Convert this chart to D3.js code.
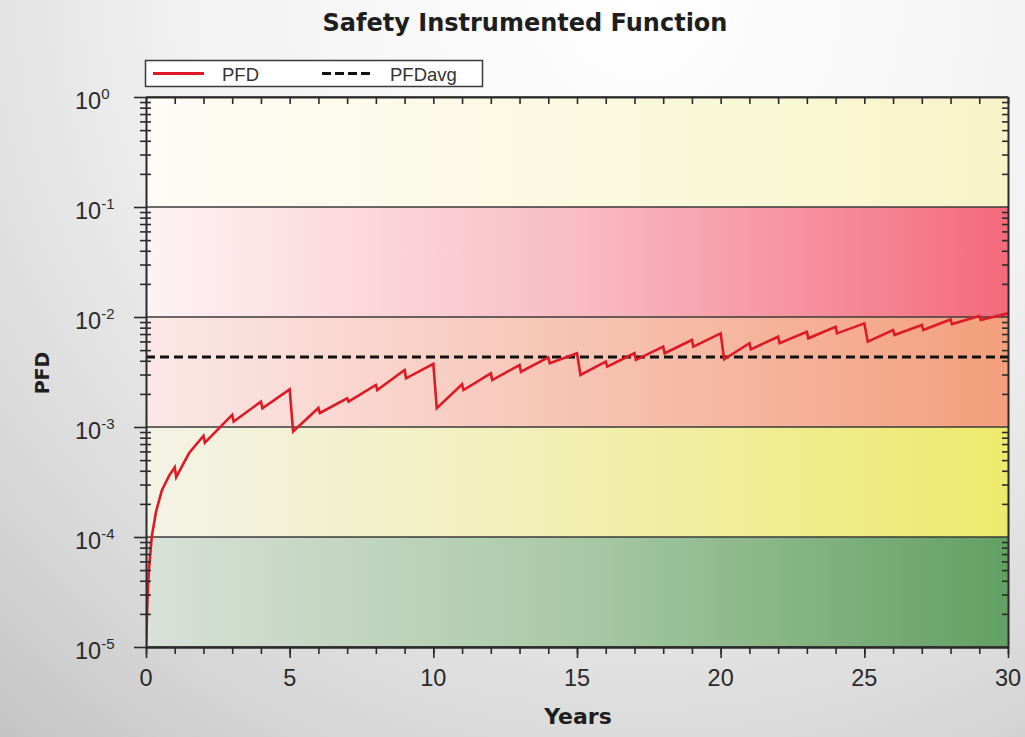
<!DOCTYPE html>
<html>
<head>
<meta charset="utf-8">
<script src="https://cdn.jsdelivr.net/npm/d3@7"></script>
<style>
  html, body { margin: 0; padding: 0; background: #fff; }
  svg { display: block; }
</style>
</head>
<body>
<svg id="chart" width="1025" height="737"></svg>
<script>
// ---------------- DATA ----------------
const chartTitle = "Safety Instrumented Function";
const xLabel = "Years";
const yLabel = "PFD";
const seriesNames = ["PFD", "PFDavg"];

// PFD curve vertices (years, probability of failure on demand)
const pfdYears = [
  0, 0.05, 0.1, 0.2, 0.35, 0.55, 0.8, 1.0, 1.05, 1.5, 2.0, 2.05, 3.0, 3.05, 4.0, 4.05,
  5.0, 5.12, 6.0, 6.05, 7.0, 7.05, 8.0, 8.05, 9.0, 9.05,
  10.0, 10.12, 11.0, 11.05, 12.0, 12.05, 13.0, 13.05, 14.0, 14.05,
  15.0, 15.12, 16.0, 16.05, 17.0, 17.05, 18.0, 18.05, 19.0, 19.05,
  20.0, 20.12, 21.0, 21.05, 22.0, 22.05, 23.0, 23.05, 24.0, 24.05,
  25.0, 25.12, 26.0, 26.05, 27.0, 27.05, 28.0, 28.05, 29.0, 29.05, 30.0
];
const pfdValues = [
  1.0e-5, 2.6e-5, 5.0e-5, 1.0e-4, 1.7e-4, 2.65e-4, 3.6e-4, 4.3e-4, 3.5e-4, 5.8e-4, 8.3e-4, 7.2e-4, 1.29e-3, 1.12e-3, 1.70e-3, 1.48e-3,
  2.2e-3, 9.1e-4, 1.49e-3, 1.34e-3, 1.82e-3, 1.70e-3, 2.41e-3, 2.17e-3, 3.3e-3, 2.77e-3,
  3.75e-3, 1.48e-3, 2.45e-3, 2.17e-3, 3.07e-3, 2.67e-3, 3.66e-3, 3.18e-3, 4.3e-3, 3.8e-3,
  4.68e-3, 2.97e-3, 3.93e-3, 3.53e-3, 4.68e-3, 4.07e-3, 5.37e-3, 4.68e-3, 6.18e-3, 5.37e-3,
  7.1e-3, 4.12e-3, 5.77e-3, 5.08e-3, 6.62e-3, 5.77e-3, 7.35e-3, 6.4e-3, 8.16e-3, 7.1e-3,
  8.75e-3, 5.97e-3, 7.62e-3, 6.86e-3, 8.45e-3, 7.62e-3, 9.5e-3, 8.63e-3, 1.02e-2, 9.4e-3, 1.08e-2
];
const pfdAvg = 4.33e-3;

// axes
const xDomain = [0, 30];
const xMajorTicks = [0, 5, 10, 15, 20, 25, 30];
const xMinorTicks = d3.range(0, 31, 1);
const yDecadeExponents = [-5, -4, -3, -2, -1, 0];
const yTickBase = "10";
const yTickExponentLabels = ["-5", "-4", "-3", "-2", "-1", "0"];

// background bands (lower bound, upper bound)
const bandLow  = [1e-1, 1e-2, 1e-3, 1e-4, 1e-5];
const bandHigh = [1e0,  1e-1, 1e-2, 1e-3, 1e-4];

// ---------------- STYLE ----------------
const bandColors = [
  ["#fdfcf6", "#fbf9e0", "#f8f4c8"],
  ["#fef3f4", "#f9bcc5", "#f46a7b"],
  ["#fbe8e7", "#f7c4b4", "#f49f7c"],
  ["#f3f3e6", "#f2efb2", "#eeea6c"],
  ["#d9e1d8", "#a9c9a6", "#62a062"]
];
const plot = { left: 146, right: 1008, top: 97, bottom: 647 };
const axisColor = "#2b2b2b";
const lineRed = "#dd1a26";

// ---------------- DRAW ----------------
const svg = d3.select("#chart");
const defs = svg.append("defs");

// page vignette
const bg = defs.append("radialGradient").attr("id", "bgGrad")
  .attr("gradientUnits", "userSpaceOnUse")
  .attr("cx", 640).attr("cy", 0).attr("r", 1000);
bg.append("stop").attr("offset", "0").attr("stop-color", "#ffffff");
bg.append("stop").attr("offset", "0.45").attr("stop-color", "#f2f2f2");
bg.append("stop").attr("offset", "0.8").attr("stop-color", "#d6d6d6");
bg.append("stop").attr("offset", "1").attr("stop-color", "#c2c2c2");
svg.append("rect").attr("width", 1025).attr("height", 737).attr("fill", "url(#bgGrad)");

const x = d3.scaleLinear().domain(xDomain).range([plot.left, plot.right]);
const y = d3.scaleLog().domain([1e-5, 1]).range([plot.bottom, plot.top]);

// bands
bandLow.forEach((lo, i) => {
  const g = defs.append("linearGradient").attr("id", "band" + i)
    .attr("x1", "0").attr("x2", "1").attr("y1", "0").attr("y2", "0");
  g.append("stop").attr("offset", "0").attr("stop-color", bandColors[i][0]);
  g.append("stop").attr("offset", "0.5").attr("stop-color", bandColors[i][1]);
  g.append("stop").attr("offset", "1").attr("stop-color", bandColors[i][2]);
  svg.append("rect")
    .attr("x", x(xDomain[0])).attr("width", x(xDomain[1]) - x(xDomain[0]))
    .attr("y", y(bandHigh[i])).attr("height", y(lo) - y(bandHigh[i]))
    .attr("fill", "url(#band" + i + ")");
});

// decade gridlines
svg.append("g").selectAll("line")
  .data(yDecadeExponents.map(e => Math.pow(10, e)))
  .join("line")
  .attr("x1", x(xDomain[0])).attr("x2", x(xDomain[1]))
  .attr("y1", d => y(d)).attr("y2", d => y(d))
  .attr("stroke", "#3a3a3a").attr("stroke-width", 1.6);

// clip
defs.append("clipPath").attr("id", "plotClip").append("rect")
  .attr("x", plot.left).attr("y", plot.top)
  .attr("width", plot.right - plot.left).attr("height", plot.bottom - plot.top);

// average line
svg.append("line")
  .attr("x1", x(xDomain[0])).attr("x2", x(xDomain[1]))
  .attr("y1", y(pfdAvg)).attr("y2", y(pfdAvg))
  .attr("stroke", "#111").attr("stroke-width", 3)
  .attr("stroke-dasharray", "9,5");

// PFD line
const pts = pfdYears.map((t, i) => [t, pfdValues[i]]);
svg.append("path")
  .datum(pts)
  .attr("clip-path", "url(#plotClip)")
  .attr("fill", "none")
  .attr("stroke", lineRed)
  .attr("stroke-width", 2.6)
  .attr("stroke-linejoin", "miter")
  .attr("d", d3.line().x(d => x(d[0])).y(d => y(d[1])));

// ---- axes ----
function styleAxis(g) {
  g.selectAll("path.domain").attr("stroke", axisColor).attr("stroke-width", 2);
  g.selectAll(".tick line").attr("stroke", axisColor).attr("stroke-width", 1.6);
  g.selectAll(".tick text").remove();
}
// bottom
svg.append("g").attr("transform", `translate(0,${plot.bottom})`)
  .call(d3.axisBottom(x).tickValues(xMinorTicks).tickSize(7).tickSizeOuter(0).tickFormat(""))
  .call(styleAxis);
svg.append("g").attr("transform", `translate(0,${plot.bottom})`)
  .call(d3.axisBottom(x).tickValues(xMajorTicks).tickSize(11).tickSizeOuter(0).tickFormat(""))
  .call(styleAxis);
// top (inward)
svg.append("g").attr("transform", `translate(0,${plot.top})`)
  .call(d3.axisBottom(x).tickValues(xMinorTicks).tickSize(7).tickSizeOuter(0).tickFormat(""))
  .call(styleAxis);

// y minor ticks
const yMinor = [];
yDecadeExponents.slice(0, -1).forEach(e => {
  for (let k = 2; k <= 9; k++) yMinor.push(k * Math.pow(10, e));
});
// left axis: decades outward, minors crossing
svg.append("g").attr("transform", `translate(${plot.left},0)`)
  .call(d3.axisLeft(y).tickValues(yDecadeExponents.map(e => Math.pow(10, e))).tickSize(12).tickSizeOuter(0).tickFormat(""))
  .call(styleAxis);
svg.append("g").attr("transform", `translate(${plot.left},0)`)
  .call(d3.axisLeft(y).tickValues(yMinor).tickSize(6).tickSizeOuter(0).tickFormat(""))
  .call(styleAxis)
  .call(g => g.selectAll("path.domain").remove());
svg.append("g").attr("transform", `translate(${plot.left},0)`)
  .call(d3.axisRight(y).tickValues(yMinor).tickSize(5).tickSizeOuter(0).tickFormat(""))
  .call(styleAxis)
  .call(g => g.selectAll("path.domain").remove());
// right axis: minors inward
svg.append("g").attr("transform", `translate(${plot.right},0)`)
  .call(d3.axisLeft(y).tickValues(yMinor).tickSize(6).tickSizeOuter(0).tickFormat(""))
  .call(styleAxis);

// x tick labels
svg.append("g").selectAll("text")
  .data(xMajorTicks)
  .join("text")
  .attr("x", d => x(d)).attr("y", 686)
  .attr("text-anchor", "middle")
  .attr("font-family", "Liberation Sans, Arial, sans-serif")
  .attr("font-size", 23.5)
  .attr("fill", "#2a2a2a")
  .text(d => d);

// y tick labels with superscripts
const yl = svg.append("g").selectAll("text")
  .data(yDecadeExponents)
  .join("text")
  .attr("x", 75).attr("y", d => y(Math.pow(10, d)) + 12)
  .attr("font-family", "Liberation Sans, Arial, sans-serif")
  .attr("font-size", 23.5)
  .attr("fill", "#2a2a2a");
yl.append("tspan").text(yTickBase);
yl.append("tspan").attr("dy", -10).attr("font-size", 15)
  .text((d, i) => yTickExponentLabels[i]);

// title
svg.append("text")
  .attr("x", 525).attr("y", 31)
  .attr("text-anchor", "middle")
  .attr("font-family", "DejaVu Sans, Verdana, sans-serif")
  .attr("font-weight", "bold")
  .attr("font-size", 24)
  .attr("fill", "#1e1e1e")
  .text(chartTitle);

// axis labels
svg.append("text")
  .attr("x", 578).attr("y", 724)
  .attr("text-anchor", "middle")
  .attr("font-family", "DejaVu Sans, Verdana, sans-serif")
  .attr("font-weight", "bold")
  .attr("font-size", 22)
  .attr("fill", "#1e1e1e")
  .text(xLabel);
svg.append("text")
  .attr("transform", "translate(49,373) rotate(-90)")
  .attr("text-anchor", "middle")
  .attr("font-family", "DejaVu Sans, Verdana, sans-serif")
  .attr("font-weight", "bold")
  .attr("font-size", 19)
  .attr("fill", "#1e1e1e")
  .text(yLabel);

// legend
const lg = svg.append("g");
lg.append("rect").attr("x", 145.5).attr("y", 60.5).attr("width", 337).attr("height", 26)
  .attr("fill", "#ffffff").attr("stroke", "#3a3a3a").attr("stroke-width", 1.5);
lg.append("line").attr("x1", 153).attr("x2", 204).attr("y1", 73.5).attr("y2", 73.5)
  .attr("stroke", lineRed).attr("stroke-width", 3);
lg.append("text").attr("x", 222).attr("y", 81)
  .attr("font-family", "Liberation Sans, Arial, sans-serif").attr("font-size", 18.5)
  .attr("fill", "#333").text(seriesNames[0]);
lg.append("line").attr("x1", 322).attr("x2", 370).attr("y1", 73.5).attr("y2", 73.5)
  .attr("stroke", "#111").attr("stroke-width", 3).attr("stroke-dasharray", "9,4");
lg.append("text").attr("x", 390).attr("y", 81)
  .attr("font-family", "Liberation Sans, Arial, sans-serif").attr("font-size", 18.5)
  .attr("fill", "#333").text(seriesNames[1]);
</script>
</body>
</html>
